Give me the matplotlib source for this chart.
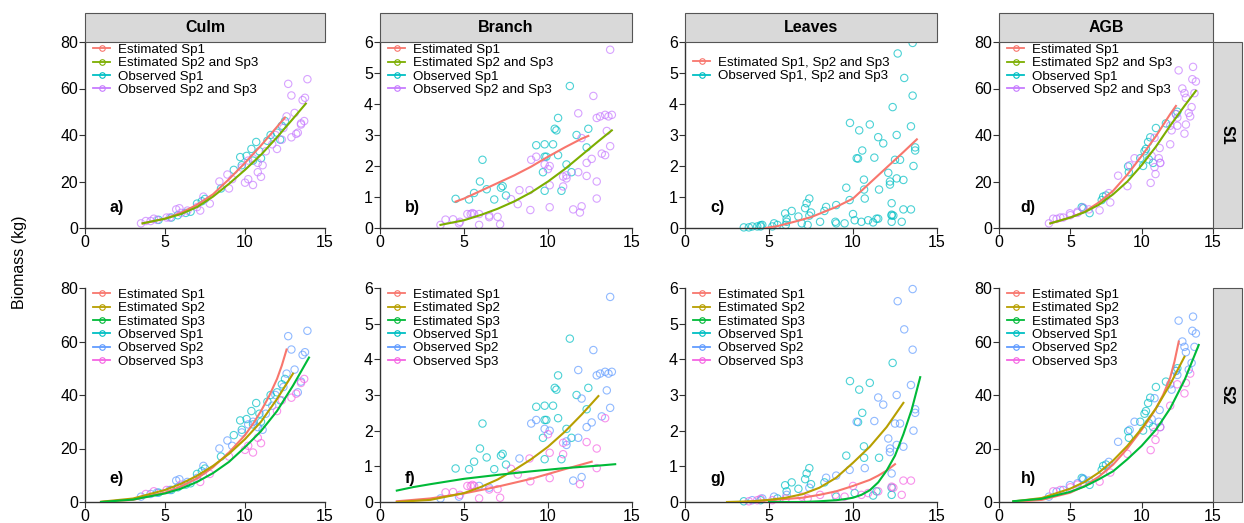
import matplotlib.pyplot as plt
from matplotlib.lines import Line2D
from matplotlib.patches import Rectangle

plt.rcParams['font.family'] = ['Liberation Sans', 'DejaVu Sans']

# colores tipo ggplot
RED, OLIVE, GREEN = '#F8766D', '#B79F00', '#00BA38'
CYAN, BLUE, PINK = '#00BFC4', '#619CFF', '#F564E3'
LGREEN, PURPLE = '#7CAE00', '#C77CFF'

# ---------------- datos observados ----------------
# Culm
culm_sp1_x = [4.6, 5.4, 5.8, 6.3, 6.6, 7.0, 7.3, 7.5, 8.5, 9.3, 9.7, 9.8, 10.1, 10.4, 10.7, 10.9, 11.4, 11.6, 12.0, 12.3, 12.5, 12.2, 11.0, 10.5]
culm_sp1_y = [3.5, 4.5, 5.5, 6.5, 7.0, 10.5, 11.5, 12.5, 17, 25, 30.5, 27, 31, 34, 37, 33, 37.5, 40, 41, 44, 46, 38, 30, 29]
culm_sp2_x = [3.5, 4.1, 4.5, 5.3, 5.7, 5.9, 6.4, 7.0, 7.4, 8.4, 8.9, 9.2, 9.8, 10.2, 10.5, 10.8, 11.1, 11.3, 11.7, 11.9, 12.4, 12.7, 12.9, 13.1, 13.3, 13.5, 13.6, 13.75, 13.9, 12.6]
culm_sp2_y = [2, 3, 3.5, 4.5, 8, 8.5, 7.5, 9, 13.5, 20, 23, 21, 26, 29, 30, 28, 27, 33, 36, 40, 43, 62, 57, 49.5, 41, 45, 55, 56, 64, 48]
culm_sp3_x = [3.8, 4.3, 5.1, 6.0, 7.2, 7.8, 9.0, 10.0, 10.2, 10.5, 10.8, 11.0, 12.0, 12.3, 12.9, 13.2, 13.5, 13.7]
culm_sp3_y = [3, 4, 4.5, 6.5, 7.5, 10.5, 17, 19.5, 21, 18.5, 24, 22, 34, 38, 39, 40.5, 44.5, 46]

# Branch
branch_sp1_x = [4.5, 5.3, 5.6, 5.95, 6.1, 6.35, 6.8, 7.2, 7.3, 7.5, 9.3, 9.7, 9.8, 9.8, 9.9, 10.3, 10.4, 10.5, 10.6, 10.6, 10.8, 11.1, 11.3, 11.4, 11.7, 12.4, 9.8, 12.3]
branch_sp1_y = [0.94, 0.92, 1.13, 1.5, 2.2, 1.25, 0.92, 1.3, 1.35, 1.05, 2.67, 1.8, 2.7, 2.3, 2.3, 2.7, 3.2, 3.15, 3.55, 2.35, 1.2, 2.05, 4.58, 1.8, 3.0, 3.2, 1.2, 2.6]
branch_sp2_x = [3.6, 4.7, 5.9, 6.5, 8.3, 9.0, 9.3, 9.8, 10.1, 11.1, 11.1, 11.5, 11.8, 11.8, 12.0, 12.0, 12.3, 12.6, 12.7, 12.9, 13.1, 13.2, 13.4, 13.5, 13.6, 13.7, 13.8, 13.7]
branch_sp2_y = [0.1, 0.15, 0.45, 0.4, 1.22, 2.2, 2.3, 2.05, 2.0, 1.7, 1.6, 0.6, 3.7, 1.8, 2.9, 0.7, 2.1, 2.23, 4.26, 3.55, 3.6, 2.4, 3.65, 3.13, 3.6, 5.75, 3.65, 2.64]
branch_sp3_x = [3.9, 4.35, 4.76, 5.2, 5.4, 5.5, 5.6, 5.9, 7.0, 7.15, 7.8, 8.2, 8.95, 8.9, 10.0, 10.1, 10.1, 10.9, 10.9, 11.9, 12.3, 12.9, 12.9, 13.4, 6.5]
branch_sp3_y = [0.27, 0.28, 0.2, 0.45, 0.45, 0.48, 0.45, 0.1, 0.36, 0.12, 0.93, 0.77, 0.58, 1.22, 1.9, 1.38, 0.67, 1.34, 1.66, 0.5, 1.68, 1.5, 0.95, 2.35, 0.35]

# Leaves
leaves_sp1_x = [3.5, 4.5, 5.5, 5.96, 6.05, 6.35, 6.75, 7.15, 7.24, 7.4, 7.5, 8.3, 9.6, 9.82, 10.3, 10.37, 10.55, 10.65, 10.66, 11.0, 11.2, 11.4, 11.55, 12.3, 12.3, 12.36, 9.0, 10.1]
leaves_sp1_y = [0.02, 0.05, 0.1, 0.47, 0.3, 0.55, 0.37, 0.64, 0.8, 0.95, 0.5, 0.55, 1.3, 3.39, 2.24, 3.15, 2.5, 1.56, 1.24, 3.34, 0.18, 0.3, 1.24, 0.4, 0.2, 3.9, 0.15, 0.25]
leaves_sp2_x = [4.0, 4.6, 5.3, 6.05, 7.4, 8.4, 9.0, 9.8, 10.22, 10.7, 11.27, 11.5, 11.8, 12.1, 12.2, 12.2, 12.3, 12.5, 12.6, 12.6, 12.66, 12.8, 13.0, 13.05, 13.45, 13.55, 13.55, 13.6, 13.7, 13.7]
leaves_sp2_y = [0.05, 0.1, 0.15, 0.2, 0.4, 0.68, 0.74, 0.9, 2.25, 0.95, 2.27, 2.93, 2.73, 1.78, 1.5, 1.4, 0.8, 2.2, 3.0, 1.6, 5.63, 2.2, 1.55, 4.84, 3.28, 5.97, 4.27, 2.0, 2.6, 2.5]
leaves_sp3_x = [3.8, 4.3, 4.5, 5.2, 6.0, 6.95, 7.3, 8.04, 8.95, 9.5, 10.0, 10.5, 10.9, 11.5, 12.3, 12.4, 12.9, 13.0, 13.45]
leaves_sp3_y = [0.02, 0.05, 0.09, 0.05, 0.1, 0.15, 0.1, 0.2, 0.2, 0.15, 0.45, 0.2, 0.25, 0.3, 0.43, 0.4, 0.2, 0.6, 0.6]

# AGB
agb_sp1_x = [5.8, 5.9, 6.35, 7.2, 7.3, 7.5, 9.05, 9.1, 10.1, 10.2, 10.3, 10.45, 10.5, 10.6, 11.0, 11.7, 12.4, 12.5, 9.9, 10.8]
agb_sp1_y = [9, 8.5, 6.4, 12, 13.5, 14, 26.5, 24, 26.7, 33, 34, 37, 29.5, 39, 43, 45, 49, 50, 30, 28]
agb_sp2_x = [3.5, 4.04, 4.5, 4.97, 5.5, 5.9, 6.3, 7.7, 8.35, 9.16, 9.5, 10.7, 10.9, 11.2, 11.3, 11.26, 12.0, 12.1, 12.4, 12.5, 12.59, 12.85, 13.0, 13.1, 13.3, 13.5, 13.55, 13.6, 13.7, 13.8]
agb_sp2_y = [2, 3.9, 4.5, 6.3, 7, 8.8, 8, 15, 22.5, 27, 30, 31, 38.8, 30, 28, 34.4, 44, 42, 49, 47.5, 67.8, 60, 58, 56, 49.5, 52, 64, 69.3, 58, 63]
agb_sp3_x = [3.8, 4.3, 5.0, 5.5, 7.05, 7.8, 9.0, 10.63, 10.9, 10.97, 11.3, 12.0, 12.5, 13.0, 13.1, 13.4]
agb_sp3_y = [4, 4.5, 5.5, 6.5, 7.6, 11, 18, 19.4, 26.2, 23.2, 28, 36, 44, 40.6, 44.5, 48]

# ---------------- curvas estimadas ----------------
# fila S1
culm_s1_sp1 = ([3.6, 5, 6, 7, 8, 9, 10, 11, 12, 12.5], [2, 4, 6.5, 10, 14.5, 21, 28, 35.5, 43.5, 47.5])
culm_s1_sp23 = ([3.6, 5, 6, 7, 8, 9, 10, 11, 12, 13, 13.8], [2, 4, 6, 9, 13.5, 19, 25, 31.5, 39, 47, 53.5])
branch_s1_sp1 = ([4.5, 5, 6, 7, 8, 9, 10, 11, 12, 12.4], [0.85, 0.95, 1.2, 1.45, 1.7, 1.98, 2.3, 2.6, 2.88, 2.97])
branch_s1_sp23 = ([3.6, 5, 6, 7, 8, 9, 10, 11, 12, 13, 13.8], [0.1, 0.25, 0.42, 0.62, 0.86, 1.15, 1.5, 1.9, 2.35, 2.8, 3.15])
leaves_s1_all = ([4.8, 5.5, 6.5, 7.5, 8, 9, 10, 11, 12, 13, 13.8], [0.0, 0.06, 0.2, 0.35, 0.46, 0.68, 0.95, 1.45, 1.95, 2.45, 2.86])
agb_s1_sp1 = ([3.6, 5, 6, 7, 8, 9, 10, 11, 12, 12.4], [2, 4.5, 7, 11, 16, 23, 31, 39.5, 49, 52.5])
agb_s1_sp23 = ([3.6, 5, 6, 7, 8, 9, 10, 11, 12, 13, 13.8], [2, 4.5, 6.8, 10, 14.5, 20, 27, 35, 44, 52.5, 59])

# fila S2
culm_s2_sp1 = ([1, 3, 5, 6, 7, 8, 9, 10, 10.5, 11, 11.5, 12, 12.3, 12.6], [0, 0.8, 3.5, 5.8, 8.8, 13, 18.5, 25, 29.2, 34, 39.5, 46, 51, 57])
culm_s2_sp2 = ([1, 3, 5, 6, 7, 8, 9, 10, 11, 12, 13], [0.1, 1.3, 4.5, 6.8, 9.8, 13.5, 18, 23.5, 30, 38.5, 48])
culm_s2_sp3 = ([1, 3, 5, 6, 7, 8, 9, 10, 11, 12, 13, 14], [0, 0.9, 3.2, 5, 7.5, 10.8, 15, 20.5, 26.5, 34, 43.5, 54])
branch_s2_sp1 = ([1, 3, 5, 7, 9, 11, 12.6], [0.02, 0.1, 0.24, 0.43, 0.65, 0.92, 1.13])
branch_s2_sp2 = ([1, 3, 5, 6, 7, 8, 9, 10, 11, 12, 13], [0.0, 0.06, 0.25, 0.42, 0.63, 0.9, 1.2, 1.55, 1.97, 2.45, 2.97])
branch_s2_sp3 = ([1, 2, 3, 5, 7, 9, 11, 13, 14], [0.32, 0.42, 0.5, 0.65, 0.76, 0.86, 0.95, 1.02, 1.06])
leaves_s2_sp1 = ([3.5, 5, 7, 8, 9, 10, 11, 11.5, 12, 12.5], [0.0, 0.05, 0.12, 0.2, 0.3, 0.45, 0.62, 0.74, 0.88, 1.06])
leaves_s2_sp2 = ([2.5, 4, 5, 6, 7, 8, 9, 10, 11, 12, 13], [0.0, 0.02, 0.06, 0.12, 0.22, 0.4, 0.68, 1.1, 1.55, 2.1, 2.78])
leaves_s2_sp3 = ([5, 7, 8, 9, 9.5, 10, 10.5, 11, 11.5, 12, 12.5, 13, 13.5, 14],
                 [0, 0.0, 0.02, 0.05, 0.08, 0.12, 0.2, 0.33, 0.55, 0.88, 1.3, 1.9, 2.6, 3.5])
agb_s2_sp1 = ([1, 3, 5, 6, 7, 8, 9, 10, 10.5, 11, 11.5, 12, 12.3, 12.6], [0, 0.8, 3.5, 6, 9.5, 14, 20, 27, 30.8, 35, 40, 46.5, 52.5, 60])
agb_s2_sp2 = ([1, 3, 5, 6, 7, 8, 9, 10, 11, 12, 13], [0.2, 1.5, 5, 7.5, 11, 15.5, 21, 27.5, 35, 44, 54.3])
agb_s2_sp3 = ([1, 3, 5, 6, 7, 8, 9, 10, 11, 12, 13, 14], [0.3, 1.2, 3.8, 5.8, 8.5, 11.5, 16, 21, 27, 35, 45.5, 58.7])

W, H = 1244, 523
fig = plt.figure(figsize=(W / 100, H / 100), dpi=100)

cols = [(85, 325), (380, 632), (685, 937), (999, 1213)]
rows = [(42, 228), (288, 502)]


def make_ax(r, c):
    x0, x1 = cols[c]
    y0, y1 = rows[r]
    return fig.add_axes([x0 / W, 1 - y1 / H, (x1 - x0) / W, (y1 - y0) / H])


def style(ax, ymax, step, lab):
    ax.set_xlim(0, 15)
    ax.set_ylim(0, ymax)
    ax.set_xticks([0, 5, 10, 15])
    ax.set_yticks(range(0, ymax + 1, step))
    for s in ['top', 'right']:
        ax.spines[s].set_visible(False)
    for s in ['left', 'bottom']:
        ax.spines[s].set_color('#333333')
        ax.spines[s].set_linewidth(1.0)
    ax.tick_params(labelsize=11.5, length=4, color='#333333', pad=1)
    ax.text(0.1, 0.11, lab, transform=ax.transAxes, fontsize=11.5,
            fontweight='bold', va='center')


def pts(ax, x, y, col):
    ax.scatter(x, y, s=28, facecolors='none', edgecolors=col, linewidths=0.8,
               alpha=0.7, clip_on=False, zorder=2)


def curve(ax, c, col):
    ax.plot(c[0], c[1], color=col, lw=1.5, zorder=3)


def leg(ax, labels, colors, anchor=(0.0, 1.035)):
    h = [Line2D([], [], color=col, lw=1.3, marker='o', markersize=4,
                markerfacecolor='none', markeredgewidth=0.8) for col in colors]
    ax.legend(h, labels, loc='upper left', bbox_to_anchor=anchor, frameon=False,
              fontsize=9.6, handlelength=1.3, handletextpad=0.6,
              labelspacing=0.08, borderaxespad=0.2)


def top_strip(c, txt):
    x0, x1 = cols[c]
    fig.patches.append(Rectangle((x0 / W, 1 - 42 / H), (x1 - x0) / W, 29 / H,
                                 transform=fig.transFigure, facecolor='#D9D9D9',
                                 edgecolor='#555555', lw=0.8))
    fig.text((x0 + x1) / 2 / W, 1 - 27.5 / H, txt, ha='center', va='center',
             fontsize=11.5, fontweight='bold')


def side_strip(r, txt):
    y0, y1 = rows[r]
    fig.patches.append(Rectangle((1213 / W, 1 - y1 / H), 29 / W, (y1 - y0) / H,
                                 transform=fig.transFigure, facecolor='#D9D9D9',
                                 edgecolor='#555555', lw=0.8))
    fig.text(1227.5 / W, 1 - (y0 + y1) / 2 / H, txt, ha='center', va='center',
             fontsize=11.5, fontweight='bold', rotation=-90)


lab4 = ['Estimated Sp1', 'Estimated Sp2 and Sp3', 'Observed Sp1', 'Observed Sp2 and Sp3']
col4 = [RED, LGREEN, CYAN, PURPLE]
lab6 = ['Estimated Sp1', 'Estimated Sp2', 'Estimated Sp3',
        'Observed Sp1', 'Observed Sp2', 'Observed Sp3']
col6 = [RED, OLIVE, GREEN, CYAN, BLUE, PINK]

# ---------- fila S1 ----------
ax = make_ax(0, 0)
pts(ax, culm_sp1_x, culm_sp1_y, CYAN)
pts(ax, culm_sp2_x + culm_sp3_x, culm_sp2_y + culm_sp3_y, PURPLE)
curve(ax, culm_s1_sp1, RED)
curve(ax, culm_s1_sp23, LGREEN)
style(ax, 80, 20, 'a)')
leg(ax, lab4, col4)

ax = make_ax(0, 1)
pts(ax, branch_sp1_x, branch_sp1_y, CYAN)
pts(ax, branch_sp2_x + branch_sp3_x, branch_sp2_y + branch_sp3_y, PURPLE)
curve(ax, branch_s1_sp1, RED)
curve(ax, branch_s1_sp23, LGREEN)
style(ax, 6, 1, 'b)')
leg(ax, lab4, col4)

ax = make_ax(0, 2)
pts(ax, leaves_sp1_x + leaves_sp2_x + leaves_sp3_x,
    leaves_sp1_y + leaves_sp2_y + leaves_sp3_y, CYAN)
curve(ax, leaves_s1_all, RED)
style(ax, 6, 1, 'c)')
leg(ax, ['Estimated Sp1, Sp2 and Sp3', 'Observed Sp1, Sp2 and Sp3'],
    [RED, CYAN], anchor=(0.0, 0.965))

ax = make_ax(0, 3)
pts(ax, agb_sp1_x, agb_sp1_y, CYAN)
pts(ax, agb_sp2_x + agb_sp3_x, agb_sp2_y + agb_sp3_y, PURPLE)
curve(ax, agb_s1_sp1, RED)
curve(ax, agb_s1_sp23, LGREEN)
style(ax, 80, 20, 'd)')
leg(ax, lab4, col4)

# ---------- fila S2 ----------
panels = [
    (culm_sp1_x, culm_sp1_y, culm_sp2_x, culm_sp2_y, culm_sp3_x, culm_sp3_y,
     culm_s2_sp1, culm_s2_sp2, culm_s2_sp3, 80, 20, 'e)'),
    (branch_sp1_x, branch_sp1_y, branch_sp2_x, branch_sp2_y, branch_sp3_x, branch_sp3_y,
     branch_s2_sp1, branch_s2_sp2, branch_s2_sp3, 6, 1, 'f)'),
    (leaves_sp1_x, leaves_sp1_y, leaves_sp2_x, leaves_sp2_y, leaves_sp3_x, leaves_sp3_y,
     leaves_s2_sp1, leaves_s2_sp2, leaves_s2_sp3, 6, 1, 'g)'),
    (agb_sp1_x, agb_sp1_y, agb_sp2_x, agb_sp2_y, agb_sp3_x, agb_sp3_y,
     agb_s2_sp1, agb_s2_sp2, agb_s2_sp3, 80, 20, 'h)'),
]
for c, p in enumerate(panels):
    ax = make_ax(1, c)
    pts(ax, p[0], p[1], CYAN)
    pts(ax, p[2], p[3], BLUE)
    pts(ax, p[4], p[5], PINK)
    curve(ax, p[6], RED)
    curve(ax, p[7], OLIVE)
    curve(ax, p[8], GREEN)
    style(ax, p[9], p[10], p[11])
    leg(ax, lab6, col6)

for c, t in enumerate(['Culm', 'Branch', 'Leaves', 'AGB']):
    top_strip(c, t)
side_strip(0, 'S1')
side_strip(1, 'S2')

fig.text(20 / W, 1 - 262 / H, 'Biomass (kg)', rotation=90, ha='center',
         va='center', fontsize=11.5)

fig.savefig('out.png', dpi=100)
